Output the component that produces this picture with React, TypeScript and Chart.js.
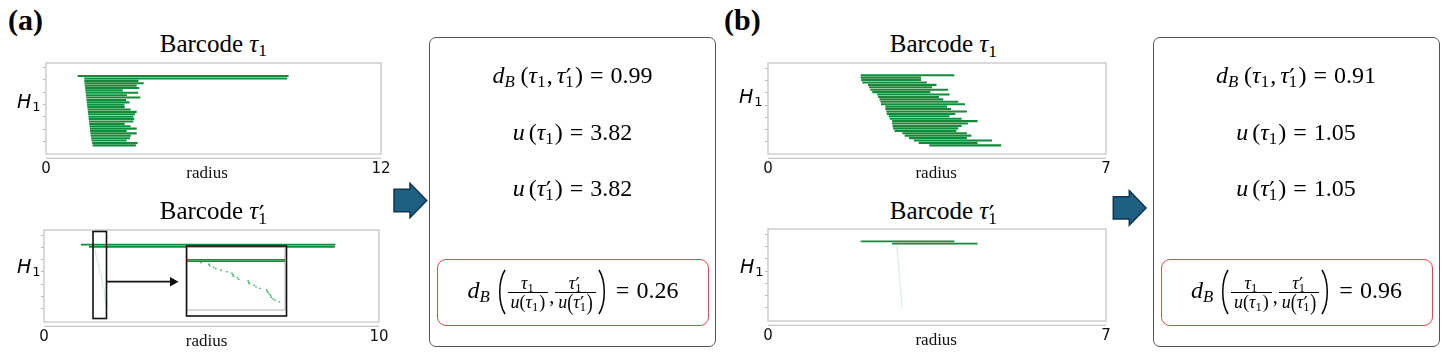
import React, { useEffect, useRef } from "react";
import { Chart, registerables } from "chart.js";

Chart.register(...registerables);

// ---------------- DATA ----------------
// Panel (a), barcode tau_1 (H1 bars, radius 0..12)
const aTau1Birth = [1.13, 1.37, 1.37, 1.38, 1.39, 1.40, 1.41, 1.42, 1.43, 1.44, 1.45, 1.46, 1.47, 1.48, 1.49, 1.50, 1.51, 1.52, 1.53, 1.54, 1.55, 1.56, 1.57, 1.58, 1.59, 1.60, 1.62, 1.63, 1.65, 1.67];
const aTau1Death = [8.69, 8.64, 3.31, 3.50, 3.25, 3.34, 2.75, 3.30, 2.90, 3.38, 2.87, 2.99, 2.81, 2.82, 3.03, 3.25, 3.19, 3.13, 3.16, 3.13, 2.82, 3.03, 3.25, 2.89, 3.25, 3.04, 3.01, 2.89, 3.28, 3.22];
// Panel (a), barcode tau_1' (radius 0..10): two long bars and many near-zero bars
const aTau1pBirth = [1.10, 1.34, 1.481, 1.517, 1.520, 1.539, 1.548, 1.572, 1.599, 1.622, 1.627, 1.630, 1.648, 1.653, 1.697, 1.700, 1.702, 1.724, 1.733, 1.751, 1.782, 1.785, 1.789, 1.797, 1.800, 1.803, 1.812, 1.820, 1.840];
const aTau1pDeath = [8.70, 8.68, 1.489, 1.525, 1.528, 1.547, 1.556, 1.580, 1.607, 1.630, 1.635, 1.638, 1.656, 1.661, 1.705, 1.708, 1.710, 1.732, 1.741, 1.759, 1.790, 1.793, 1.797, 1.805, 1.808, 1.811, 1.820, 1.828, 1.848];
// Panel (b), barcode tau_1 (radius 0..7)
const bTau1Birth = [1.92, 1.92, 1.93, 1.95, 2.07, 2.09, 2.12, 2.16, 2.26, 2.28, 2.31, 2.33, 2.34, 2.43, 2.43, 2.45, 2.46, 2.50, 2.52, 2.57, 2.57, 2.58, 2.59, 2.62, 2.78, 2.83, 2.92, 3.02, 3.12, 3.34];
const bTau1Death = [3.86, 3.17, 3.17, 3.29, 3.49, 3.40, 3.73, 3.36, 3.76, 3.54, 3.63, 3.94, 4.08, 3.71, 3.79, 4.12, 3.88, 3.76, 4.01, 4.34, 4.14, 4.01, 3.94, 3.90, 4.12, 4.21, 4.12, 4.64, 4.34, 4.83];
// Panel (b), barcode tau_1' (radius 0..7)
const bTau1pBirth = [1.92, 2.57, 2.66, 2.66, 2.67, 2.67, 2.68, 2.68, 2.68, 2.69, 2.69, 2.70, 2.70, 2.70, 2.71, 2.71, 2.72, 2.72, 2.72, 2.73, 2.73, 2.73, 2.74, 2.74, 2.74, 2.75, 2.75, 2.75, 2.76, 2.76];
const bTau1pDeath = [3.86, 4.34, 2.67, 2.67, 2.68, 2.68, 2.69, 2.69, 2.69, 2.70, 2.70, 2.71, 2.71, 2.71, 2.72, 2.72, 2.73, 2.73, 2.73, 2.74, 2.74, 2.74, 2.75, 2.75, 2.75, 2.76, 2.76, 2.76, 2.77, 2.77];

const xTicksA1 = [0, 12];
const xTicksA2 = [0, 10];
const xTicksB = [0, 7];
const insetRange = [1.42, 1.87];

const dBRaw = ["0.99", "0.91"];
const uTau = ["3.82", "1.05"];
const uTauPrime = ["3.82", "1.05"];
const dBNorm = ["0.26", "0.96"];
const panelLabels = ["(a)", "(b)"];

// ---------------- STYLE / LAYOUT ----------------
const SERIF = '"Liberation Serif","Times New Roman",serif';
const SANS = '"DejaVu Sans","Liberation Sans",sans-serif';
const GREEN = "#148b3b";

type Spec = {
  id: string;
  area: [number, number, number, number];
  births: number[];
  deaths: number[];
  xMin: number;
  xMax: number;
  yMin: number;
  yMax: number;
  yTicks: number[];
  xTicks: number[];
  axes: boolean;
  radiusDX: number;
  barPct: number;
  tinyColor: string;
  minLen: number;
  gap: number;
};

const specs: Spec[] = [
  {
    id: "a1", area: [46, 63, 381, 154.3], births: aTau1Birth, deaths: aTau1Death,
    xMin: 0, xMax: 12, yMin: -2.3, yMax: 29.45,
    yTicks: [-1.01, 4.21, 9.43, 14.64, 19.62, 24.73], xTicks: xTicksA1,
    axes: true, radiusDX: -6.5, barPct: 0.87, tinyColor: "rgba(140,200,205,0.6)", minLen: 1, gap: 4.4,
  },
  {
    id: "a2", area: [44.3, 230, 379.3, 321.7], births: aTau1pBirth, deaths: aTau1pDeath,
    xMin: 0, xMax: 10, yMin: -3.16, yMax: 31.7,
    yTicks: [-1.53, 4.06, 9.5, 15.2, 20.7, 26.2], xTicks: xTicksA2,
    axes: true, radiusDX: -5, barPct: 0.9, tinyColor: "rgba(150,205,210,0.55)", minLen: 1, gap: 4.4,
  },
  {
    id: "b1", area: [768.3, 62.7, 1106.7, 154], births: bTau1Birth, deaths: bTau1Death,
    xMin: 0, xMax: 7, yMin: -1.92, yMax: 29.45,
    yTicks: [-0.2, 4.71, 9.76, 14.92, 19.83, 24.88], xTicks: xTicksB,
    axes: true, radiusDX: -0.8, barPct: 0.87, tinyColor: "rgba(140,200,205,0.6)", minLen: 1, gap: 4.4,
  },
  {
    id: "b2", area: [768.3, 229.3, 1106.7, 321], births: bTau1pBirth, deaths: bTau1pDeath,
    xMin: 0, xMax: 7, yMin: -2.11, yMax: 31.85,
    yTicks: [-0.37, 4.93, 10.48, 15.81, 21.22, 26.56], xTicks: xTicksB,
    axes: true, radiusDX: -0.8, barPct: 0.8, tinyColor: "rgba(150,210,215,0.55)", minLen: 1, gap: 4.4,
  },
  {
    id: "inset", area: [187.3, 247.3, 285.7, 310], births: aTau1pBirth, deaths: aTau1pDeath,
    xMin: insetRange[0], xMax: insetRange[1], yMin: -3.2, yMax: 28.15,
    yTicks: [], xTicks: [],
    axes: false, radiusDX: 0, barPct: 0.9, tinyColor: "rgba(40,160,80,0.85)", minLen: 1, gap: 2.6,
  },
];

function framePlugin(s: Spec) {
  return {
    id: "frame_" + s.id,
    beforeDatasetsDraw(chart: any) {
      const { ctx, chartArea } = chart;
      const { left, right, top, bottom } = chartArea;
      ctx.save();
      ctx.strokeStyle = "#c6c6c6";
      ctx.lineWidth = 1.3;
      ctx.strokeRect(left, top, right - left, bottom - top);
      ctx.restore();
    },
    afterDraw(chart: any) {
      const { ctx, chartArea } = chart;
      const { left, right, bottom } = chartArea;
      ctx.save();
      ctx.strokeStyle = "#c6c6c6";
      ctx.lineWidth = 1.3;
      ctx.beginPath();
      ctx.moveTo(left, bottom + s.gap);
      ctx.lineTo(right, bottom + s.gap);
      ctx.stroke();
      if (s.axes) {
        ctx.fillStyle = "#111";
        ctx.font = `17px ${SERIF}`;
        ctx.textAlign = "center";
        ctx.textBaseline = "alphabetic";
        ctx.fillText("radius", (left + right) / 2 + s.radiusDX, bottom + 23.5);
      }
      ctx.restore();
    },
  };
}

function makeConfig(s: Spec): any {
  const rows = s.births.map((b, i) => ({ x: [b, s.deaths[i]], y: i }));
  const colors = s.births.map((b, i) => (s.deaths[i] - b < 0.05 ? s.tinyColor : GREEN));
  return {
    type: "bar",
    data: {
      datasets: [
        {
          data: rows,
          backgroundColor: colors,
          borderWidth: 0,
          barPercentage: s.barPct,
          categoryPercentage: 1,
          minBarLength: s.minLen,
        },
      ],
    },
    options: {
      indexAxis: "y",
      animation: false,
      responsive: false,
      maintainAspectRatio: false,
      devicePixelRatio: 1,
      events: [],
      layout: { padding: s.axes ? { left: 12, right: 16, top: 2, bottom: 2 } : 2 },
      plugins: { legend: { display: false }, tooltip: { enabled: false }, title: { display: false } },
      scales: {
        x: {
          type: "linear",
          min: s.xMin,
          max: s.xMax,
          display: s.axes,
          border: { display: false },
          grid: { display: true, drawOnChartArea: false, drawTicks: false },
          ticks: {
            display: true,
            padding: 6,
            font: { family: SANS, size: 15 },
            color: "#111",
            maxRotation: 0,
            autoSkip: false,
            callback: (v: any) => String(v),
          },
          afterBuildTicks: (ax: any) => {
            if (s.axes) ax.ticks = s.xTicks.map((v) => ({ value: v }));
          },
        },
        y: {
          type: "linear",
          reverse: true,
          min: s.yMin,
          max: s.yMax,
          display: s.axes,
          border: { display: false },
          grid: { display: true, drawOnChartArea: false, drawTicks: true, tickLength: 3, color: "#b8b8b8", lineWidth: 1 },
          ticks: { display: false },
          afterBuildTicks: (ax: any) => {
            if (s.axes) ax.ticks = s.yTicks.map((v) => ({ value: v }));
          },
        },
      },
    },
    plugins: [framePlugin(s)],
  };
}

// ---------------- MATH HELPERS ----------------
function Stack({ size, sub, sup, italicSub, w }: { size: number; sub: string; sup?: string; italicSub?: boolean; w?: number }) {
  return (
    <span style={{ display: "inline-block", position: "relative", width: w ?? size * 0.4, height: 0, verticalAlign: "baseline" }}>
      {sup && (
        <span
          style={{
            position: "absolute", left: size * 0.02, top: -0.7 * size, fontSize: size, lineHeight: 1,
            fontStyle: "normal", fontFamily: '"DejaVu Serif",serif',
          }}
        >
          {sup}
        </span>
      )}
      <span style={{ position: "absolute", left: 0, top: (0.21 - 0.8375 * 0.7) * size, fontSize: 0.7 * size, lineHeight: 1, fontStyle: italicSub ? "italic" : "normal" }}>
        {sub}
      </span>
    </span>
  );
}

function Tau1({ size, prime }: { size: number; prime?: boolean }) {
  return (
    <>
      <i>τ</i>
      <Stack size={size} sub="1" sup={prime ? "′" : undefined} />
    </>
  );
}

function DB({ size }: { size: number }) {
  return (
    <>
      <i>d</i>
      <Stack size={size} sub="B" italicSub w={size * 0.5} />
    </>
  );
}

const MS = 24;
const FS = 18;

function MathLine({ baseline, children }: { baseline: number; children: React.ReactNode }) {
  return (
    <div
      style={{
        position: "absolute", left: 0, width: "100%", top: baseline - 0.8375 * MS,
        textAlign: "center", fontSize: MS, lineHeight: `${MS}px`, whiteSpace: "nowrap", fontFamily: SERIF,
      }}
    >
      {children}
    </div>
  );
}

function Frac({ num, den }: { num: React.ReactNode; den: React.ReactNode }) {
  const part: React.CSSProperties = { fontSize: FS, lineHeight: `${FS}px`, height: FS, padding: "0 3px", whiteSpace: "nowrap" };
  return (
    <span style={{ display: "inline-flex", flexDirection: "column", alignItems: "center", margin: "0 1px" }}>
      <span style={part}>{num}</span>
      <span style={{ alignSelf: "stretch", height: 1, background: "#000" }} />
      <span style={part}>{den}</span>
    </span>
  );
}

function BigParen({ right }: { right?: boolean }) {
  const d = right ? "M1,1 C8,12 8,34 1,45" : "M9,1 C2,12 2,34 9,45";
  return (
    <svg width={10} height={46} style={{ display: "block", margin: "0 1px" }}>
      <path d={d} stroke="#000" strokeWidth={1.5} fill="none" />
    </svg>
  );
}

function ResultBox({ left, idx }: { left: number; idx: number }) {
  const txt: React.CSSProperties = { fontSize: MS, lineHeight: `${MS}px`, position: "relative", top: -2, whiteSpace: "nowrap" };
  return (
    <div
      style={{
        position: "absolute", left, top: 37.3, width: 287, height: 309.4, boxSizing: "border-box",
        border: "1px solid #555", borderRadius: 7, fontFamily: SERIF, color: "#000",
      }}
    >
      <MathLine baseline={83.3 - 37.3 - 1}>
        <DB size={MS} />
        <span style={{ marginLeft: 4 }}>(</span>
        <Tau1 size={MS} />
        <span>,</span>
        <span style={{ marginLeft: 4 }} />
        <Tau1 size={MS} prime />
        <span>)</span>
        <span style={{ margin: "0 7px" }}>=</span>
        {dBRaw[idx]}
      </MathLine>
      <MathLine baseline={140 - 37.3 - 1}>
        <i>u</i>
        <span style={{ marginLeft: 4 }}>(</span>
        <Tau1 size={MS} />
        <span>)</span>
        <span style={{ margin: "0 7px" }}>=</span>
        {uTau[idx]}
      </MathLine>
      <MathLine baseline={195.7 - 37.3 - 1}>
        <i>u</i>
        <span style={{ marginLeft: 4 }}>(</span>
        <Tau1 size={MS} prime />
        <span>)</span>
        <span style={{ margin: "0 7px" }}>=</span>
        {uTauPrime[idx]}
      </MathLine>
      <div
        style={{
          position: "absolute", left: 7, top: 220.4, width: 272, height: 67.6, boxSizing: "border-box",
          border: "1px solid #e5454c", borderRadius: 9, display: "flex", alignItems: "center", justifyContent: "center",
        }}
      >
        <span style={txt}>
          <DB size={MS} />
        </span>
        <span style={{ width: 3 }} />
        <BigParen />
        <Frac
          num={<Tau1 size={FS} />}
          den={
            <>
              <i>u</i>(<Tau1 size={FS} />)
            </>
          }
        />
        <span style={{ ...txt, top: 4, fontSize: 20 }}>,</span>
        <Frac
          num={<Tau1 size={FS} prime />}
          den={
            <>
              <i>u</i>
              <span style={{ display: "inline-block", transform: "scaleY(1.3)" }}>(</span>
              <Tau1 size={FS} prime />
              <span style={{ display: "inline-block", transform: "scaleY(1.3)" }}>)</span>
            </>
          }
        />
        <BigParen right />
        <span style={{ ...txt, marginLeft: 7 }}>=</span>
        <span style={{ ...txt, marginLeft: 7 }}>{dBNorm[idx]}</span>
      </div>
    </div>
  );
}

function Title({ cx, baseline, prime }: { cx: number; baseline: number; prime?: boolean }) {
  const fs = 25;
  return (
    <div
      style={{
        position: "absolute", left: cx, top: baseline - 0.8375 * fs, transform: "translateX(-50%)",
        fontFamily: SERIF, fontSize: fs, lineHeight: `${fs}px`, whiteSpace: "nowrap", color: "#000",
      }}
    >
      Barcode <Tau1 size={fs} prime={prime} />
    </div>
  );
}

function HLabel({ left, baseline }: { left: number; baseline: number }) {
  const fs = 19;
  return (
    <div
      style={{
        position: "absolute", left, top: baseline - 0.846 * fs, fontFamily: SANS, fontStyle: "italic",
        fontSize: fs, lineHeight: `${fs}px`, color: "#000", whiteSpace: "nowrap",
      }}
    >
      H<span style={{ fontStyle: "normal", fontSize: 13, position: "relative", top: 3, marginLeft: 1 }}>1</span>
    </div>
  );
}

function PanelLabel({ left, text }: { left: number; text: string }) {
  return (
    <div style={{ position: "absolute", left, top: 5, fontFamily: SERIF, fontWeight: "bold", fontSize: 30, lineHeight: "30px", color: "#000" }}>
      {text}
    </div>
  );
}

function blockArrow(x: number, y: number) {
  const pts = [
    [x, y + 6], [x + 16, y + 6], [x + 16, y], [x + 32.7, y + 17.2], [x + 16, y + 34.4], [x + 16, y + 28.4], [x, y + 28.4],
  ];
  return pts.map((p) => p.join(",")).join(" ");
}

export default function App() {
  const refs = useRef<(HTMLCanvasElement | null)[]>([]);

  useEffect(() => {
    document.body.style.margin = "0";
    const charts: Chart[] = [];
    specs.forEach((s, k) => {
      const cv = refs.current[k];
      if (!cv) return;
      const [l, t, r, b] = s.area;
      const make = (w: number, h: number) => {
        cv.width = w;
        cv.height = h;
        cv.style.width = w + "px";
        cv.style.height = h + "px";
        return new Chart(cv, makeConfig(s));
      };
      const W = Math.round(r - l + 40);
      const H = Math.round(b - t + (s.axes ? 40 : 6));
      let ch = make(W, H);
      let ca = ch.chartArea;
      const W2 = Math.round(W + (r - l - (ca.right - ca.left)));
      const H2 = Math.round(H + (b - t - (ca.bottom - ca.top)));
      ch.destroy();
      ch = make(W2, H2);
      ca = ch.chartArea;
      cv.style.left = l - ca.left + "px";
      cv.style.top = t - ca.top + "px";
      charts.push(ch);
    });
    return () => charts.forEach((c) => c.destroy());
  }, []);

  return (
    <div style={{ position: "relative", width: 1453, height: 363, background: "#fff", overflow: "hidden", fontFamily: SERIF }}>
      {specs.map((s, k) => (
        <canvas key={s.id} ref={(el) => { refs.current[k] = el; }} style={{ position: "absolute", left: 0, top: 0 }} />
      ))}

      <PanelLabel left={8} text={panelLabels[0]} />
      <PanelLabel left={724} text={panelLabels[1]} />

      <Title cx={214} baseline={51.7} />
      <Title cx={214} baseline={219.3} prime />
      <Title cx={944} baseline={52.3} />
      <Title cx={944} baseline={219.3} prime />

      <HLabel left={17} baseline={108.3} />
      <HLabel left={17} baseline={273.3} />
      <HLabel left={739} baseline={103} />
      <HLabel left={740} baseline={273.3} />

      <svg width={1453} height={363} style={{ position: "absolute", left: 0, top: 0, pointerEvents: "none" }}>
        <polygon points={blockArrow(394, 183.3)} fill="#1f5f82" stroke="#0e3550" strokeWidth={1.5} />
        <polygon points={blockArrow(1113.3, 190.7)} fill="#1f5f82" stroke="#0e3550" strokeWidth={1.5} />
        <rect x={93} y={231.5} width={13.5} height={87} fill="none" stroke="#111" strokeWidth={1.6} />
        <rect x={186.5} y={246} width={100} height={70} fill="none" stroke="#111" strokeWidth={1.6} />
        <line x1={106.7} y1={281.7} x2={171} y2={281.7} stroke="#111" strokeWidth={1.8} />
        <polygon points="170,277 178.5,281.7 170,286.4" fill="#111" />
      </svg>

      <ResultBox left={429} idx={0} />
      <ResultBox left={1152.5} idx={1} />
    </div>
  );
}
